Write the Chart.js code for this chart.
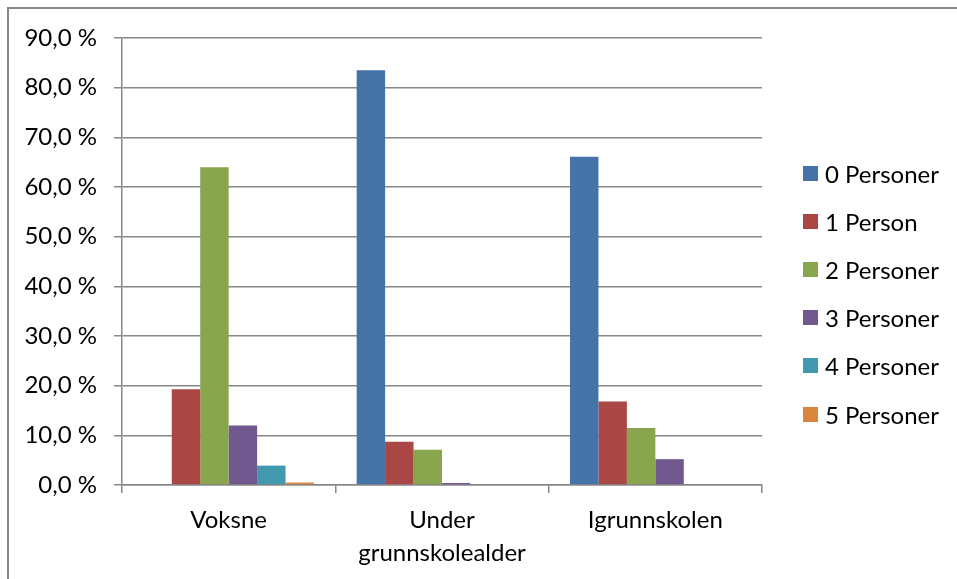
<!DOCTYPE html>
<html>
<head>
<meta charset="utf-8">
<script src="https://cdn.jsdelivr.net/npm/chart.js@4"></script>
<style>
  html, body { margin: 0; padding: 0; background: #fff; }
  #wrap { position: relative; width: 957px; height: 579px; }
  #legend { position: absolute; left: 803px; top: 149px; font-family: Lato, sans-serif; font-size: 24px; color: #000; }
  #legend div { display: flex; align-items: center; height: 48.2px; }
  #legend span.box { display: inline-block; width: 15px; height: 15px; margin-right: 7px; }
</style>
</head>
<body>
<div id="wrap">
  <canvas id="chart" width="957" height="579"></canvas>
  <div id="legend"></div>
</div>
<script>
const categories = ['Voksne', ['Under', 'grunnskolealder'], 'Igrunnskolen'];
const seriesNames = ['0 Personer', '1 Person', '2 Personer', '3 Personer', '4 Personer', '5 Personer'];
const personer0 = [0, 83.5, 66.1];
const personer1 = [19.3, 8.7, 16.8];
const personer2 = [64.0, 7.1, 11.5];
const personer3 = [12.0, 0.4, 5.2];
const personer4 = [3.9, 0, 0];
const personer5 = [0.5, 0, 0];
const colors = ['#4572A7', '#AA4643', '#89A54E', '#71588F', '#4198AF', '#DB843D'];

const values = [personer0, personer1, personer2, personer3, personer4, personer5];

Chart.defaults.font.family = 'Lato, sans-serif';
Chart.defaults.color = '#000';

// frame round the chart (only top and left edges are visible)
const frame = {
    id: 'frame',
    beforeDraw(chart) {
        const c = chart.ctx;
        c.save();
        c.strokeStyle = '#868686';
        c.lineWidth = 2;
        c.beginPath();
        c.moveTo(8, 579);
        c.lineTo(8, 8);
        c.lineTo(957, 8);
        c.stroke();
        c.restore();
    }
};

const ctx = document.getElementById('chart').getContext('2d');
const chart = new Chart(ctx, {
    type: 'bar',
    data: {
        labels: categories,
        datasets: seriesNames.map((name, i) => ({
            label: name,
            data: values[i],
            backgroundColor: colors[i],
            borderWidth: 0,
            categoryPercentage: 0.8,
            barPercentage: 1.0
        }))
    },
    options: {
        responsive: false,
        animation: false,
        layout: { padding: { top: 38, right: 195, bottom: 0, left: 0 } },
        plugins: {
            legend: { display: false },
            tooltip: { enabled: false }
        },
        scales: {
            x: {
                afterFit(scale) { scale.height = 94; },
                grid: { drawOnChartArea: false, drawTicks: true, tickLength: 8, color: '#888', lineWidth: 1.5, offset: true },
                border: { color: '#888', width: 1.5 },
                ticks: { font: { size: 24, lineHeight: 1.4 }, padding: 10, maxRotation: 0 }
            },
            y: {
                min: 0,
                max: 90,
                afterFit(scale) { scale.width = 122; },
                grid: { color: '#888', lineWidth: 1.5, tickLength: 8 },
                border: { color: '#888', width: 1.5 },
                ticks: {
                    stepSize: 10,
                    padding: 17,
                    font: { size: 24 },
                    callback: v => v.toFixed(1).replace('.', ',') + ' %'
                }
            }
        }
    },
    plugins: [frame]
});

const legend = document.getElementById('legend');
seriesNames.forEach((name, i) => {
    const row = document.createElement('div');
    const box = document.createElement('span');
    box.className = 'box';
    box.style.background = colors[i];
    row.appendChild(box);
    row.appendChild(document.createTextNode(name));
    legend.appendChild(row);
});
</script>
</body>
</html>
